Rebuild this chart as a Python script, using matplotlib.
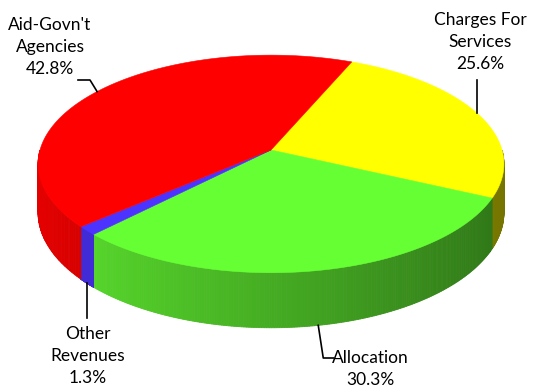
import matplotlib.pyplot as plt
import numpy as np
from matplotlib.patches import Polygon
from matplotlib.colors import to_rgb

labels = ["Charges For\nServices", "Allocation", "Other\nRevenues", "Aid-Govn't\nAgencies"]
shares = [25.6, 30.3, 1.3, 42.8]
colors = ["#ffff00", "#66ff33", "#4d33ff", "#ff0000"]

# pie geometry in pixel units (y grows downward)
CX, CY = 271.0, 150.0
RX, RY = 231.0, 107.0
PERSP = 0.128
DEPTH = 48.0
START = 67.0


def rim(t_deg):
    t = np.radians(t_deg)
    s = 1.0 + PERSP * np.sin(t)
    return CX + RX * np.cos(t) / s, CY - RY * np.sin(t) / s


def depth_at(t_deg):
    return DEPTH / (1.0 + PERSP * np.sin(np.radians(t_deg)))


def shade(color, t_deg):
    u = (np.cos(np.radians(t_deg)) + 1) / 2
    f = 0.9 - 0.45 * u
    return tuple(min(1, c * f) for c in to_rgb(color))


plt.rcParams["font.family"] = ["Lato", "DejaVu Sans"]

fig = plt.figure(figsize=(5.34, 3.90), dpi=100)
ax = fig.add_axes([0, 0, 1, 1])
ax.set_xlim(0, 534)
ax.set_ylim(390, 0)
ax.axis("off")

# slice angle ranges, clockwise from START
bounds = START - np.concatenate([[0], np.cumsum(shares)]) * 3.6
spans = list(zip(bounds[:-1], bounds[1:]))

# side walls on the front half
for (t0, t1), col in zip(spans, colors):
    ts = np.linspace(t0, t1, 200)
    for a0, a1 in zip(ts[:-1], ts[1:]):
        mid = (a0 + a1) / 2
        if np.sin(np.radians(mid)) >= 0:
            continue
        x0, y0 = rim(a0)
        x1, y1 = rim(a1)
        c = shade(col, mid)
        quad = [(x0, y0), (x1, y1), (x1, y1 + depth_at(a1)), (x0, y0 + depth_at(a0))]
        ax.add_patch(Polygon(quad, closed=True, facecolor=c, edgecolor=c, lw=0.6))

# top faces
for (t0, t1), col in zip(spans, colors):
    ts = np.linspace(t0, t1, 200)
    xs, ys = rim(ts)
    pts = [(CX, CY)] + list(zip(xs, ys))
    ax.add_patch(Polygon(pts, closed=True, facecolor=col, edgecolor=col, lw=0.4))

mids = [(t0 + t1) / 2 for t0, t1 in spans]
fs = 12.5
ls = 1.45
lc = "black"

# Charges For Services
x, y = rim(mids[0])
ax.plot([x, x], [y, 80], color=lc, lw=1.2)
ax.text(480, 42, "%s\n%.1f%%" % (labels[0], shares[0]), ha="center", va="center",
        fontsize=fs, linespacing=ls)

# Allocation
x, y = rim(mids[1])
yb = y + depth_at(mids[1])
ax.plot([x, x + 5, x + 15], [yb, 358, 358], color=lc, lw=1.2)
ax.text(370, 369, "%s\n%.1f%%" % (labels[1], shares[1]), ha="center", va="center",
        fontsize=fs, linespacing=ls)

# Other Revenues
x, y = rim(mids[2])
yb = y + depth_at(mids[2])
ax.plot([x, x], [yb, 318], color=lc, lw=1.2)
ax.text(88, 356, "%s\n%.1f%%" % (labels[2], shares[2]), ha="center", va="center",
        fontsize=fs, linespacing=ls)

# Aid-Govn't Agencies
x, y = rim(mids[3])
ax.plot([78, 90, x], [80, 80, y], color=lc, lw=1.2)
ax.text(50, 47, "%s\n%.1f%%" % (labels[3], shares[3]), ha="center", va="center",
        fontsize=fs, linespacing=ls)

fig.savefig("out.png", dpi=100)
